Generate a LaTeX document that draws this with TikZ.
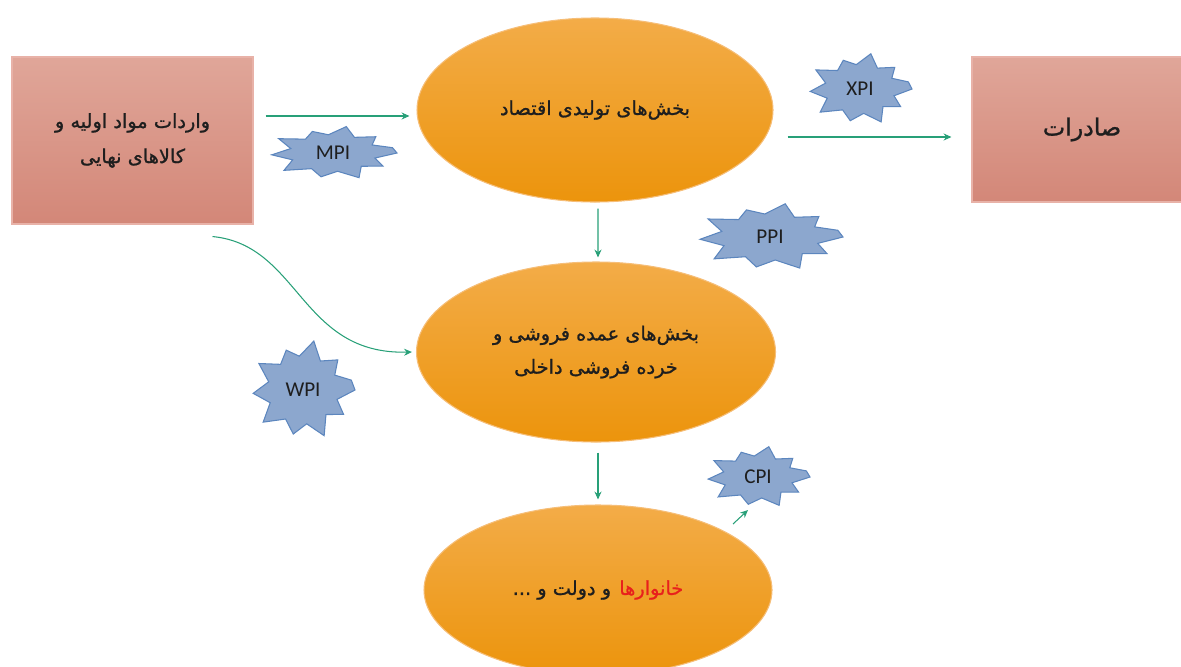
\documentclass[tikz,border=0pt]{standalone}
\usepackage{fontspec}
\setmainfont{Carlito}
\newfontfamily\fa[Script=Arabic,FakeBold=1]{DejaVu Sans}
\TeXXeTstate=1
\usetikzlibrary{shapes.geometric,arrows.meta}
\definecolor{flowgreen}{RGB}{40,160,120}
\definecolor{boxtop}{RGB}{224,166,153}
\definecolor{boxbot}{RGB}{211,135,120}
\definecolor{boxedge}{RGB}{232,178,168}
\definecolor{ovaltop}{RGB}{243,172,72}
\definecolor{ovalmid}{RGB}{248,158,22}
\definecolor{ovalbot}{RGB}{236,148,12}
\definecolor{ovaledge}{RGB}{246,190,120}
\definecolor{burstfill}{RGB}{140,167,206}
\definecolor{burstedge}{RGB}{92,134,190}
\definecolor{inktext}{RGB}{30,30,30}
\definecolor{hhred}{RGB}{232,32,28}
\tikzset{
	flow/.style={draw=flowgreen,line width=0.6pt,-{Stealth[length=4.5pt,width=4pt]}},
	stock/.style={rectangle,draw=boxedge,line width=0.6pt,top color=boxtop,bottom color=boxbot,
		inner sep=0pt,text=inktext,align=center},
	sector/.style={ellipse,draw=ovaledge,line width=0.6pt,top color=ovaltop,middle color=ovalmid,
		bottom color=ovalbot,inner sep=0pt,text=inktext,align=center,
		font=\fa\fontsize{11}{19}\selectfont},
	burstline/.style={fill=burstfill,draw=burstedge,line width=0.6pt,line join=miter},
	burstlabel/.style={font=\fontsize{12}{14}\selectfont,text=inktext}
}
\begin{document}
\begin{tikzpicture}[x=0.2mm,y=-0.2mm]
	\useasboundingbox (0,0) rectangle (1181,666);
	\node [stock,minimum width=48.2mm,minimum height=33.4mm,font=\fa\fontsize{11}{20}\selectfont] at (132.5,140.5) (imports)
		{\beginR واردات مواد اولیه و\endR\\\beginR کالاهای نهایی\endR};
	\node [stock,minimum width=44mm,minimum height=29mm,font=\fa\fontsize{13.5}{16}\selectfont] at (1082,129.5) (exports)
		{\beginR صادرات\endR};
	\node [sector,minimum width=71.2mm,minimum height=36.8mm] at (595,110) (prod)
		{\beginR بخش^^^^200cهای تولیدی اقتصاد\endR};
	\node [sector,minimum width=71.8mm,minimum height=36mm] at (596,352) (trade)
		{\beginR بخش^^^^200cهای عمده فروشی و\endR\\\beginR خرده فروشی داخلی\endR};
	\node [sector,minimum width=69.6mm,minimum height=34mm] at (598,590) (house)
		{{\beginR و دولت و ...\endR} \textcolor{hhred}{خانوارها}};
	\foreach \n/\t/\x/\y/\rx/\ry in {mpi/MPI/333/153/64/27,xpi/XPI/860/89/52/36,ppi/PPI/770/237/73/34,
		wpi/WPI/303/390/52/50,cpi/CPI/758/477/52/31}{
		\draw [burstline] (\x,\y) +(0:{\rx} and {\ry})
			\foreach \a/\r in {16/0.68,32/0.92,48/0.66,66/1,84/0.68,102/0.9,120/0.67,140/1,158/0.68,
				176/0.96,194/0.68,212/1,230/0.67,248/0.86,264/0.68,282/1,300/0.67,318/0.9,334/0.68,348/0.95}
			{ -- +(\a:{\r*\rx} and {\r*\ry}) } -- cycle;
		\node [burstlabel] at (\x,\y) (\n) {\t};
	}
	\coordinate (mIn) at ([shift={(12,-24.5)}]imports.east);
	\draw [flow,shorten >=1.4mm] (mIn) -- (mIn -| prod.west);
	\coordinate (xOut) at ([shift={(14,27)}]prod.east);
	\draw [flow,shorten >=4mm] (xOut) -- (xOut -| exports.west);
	\draw [flow,shorten <=1.2mm,shorten >=0.8mm] ([xshift=0.6mm]prod.south) -- ([xshift=0.4mm]trade.north);
	\draw [flow,shorten <=2mm,shorten >=1mm] ([xshift=0.4mm]trade.south) -- (house.north);
	\draw [flow] ([shift={(80,12)}]imports.south) .. controls (300,245) and (300,355) .. ([xshift=-0.8mm]trade.west);
	\draw [flow] ([shift={(135,-66)}]house.center) -- ([shift={(-10,33)}]cpi.center);
\end{tikzpicture}
\end{document}
